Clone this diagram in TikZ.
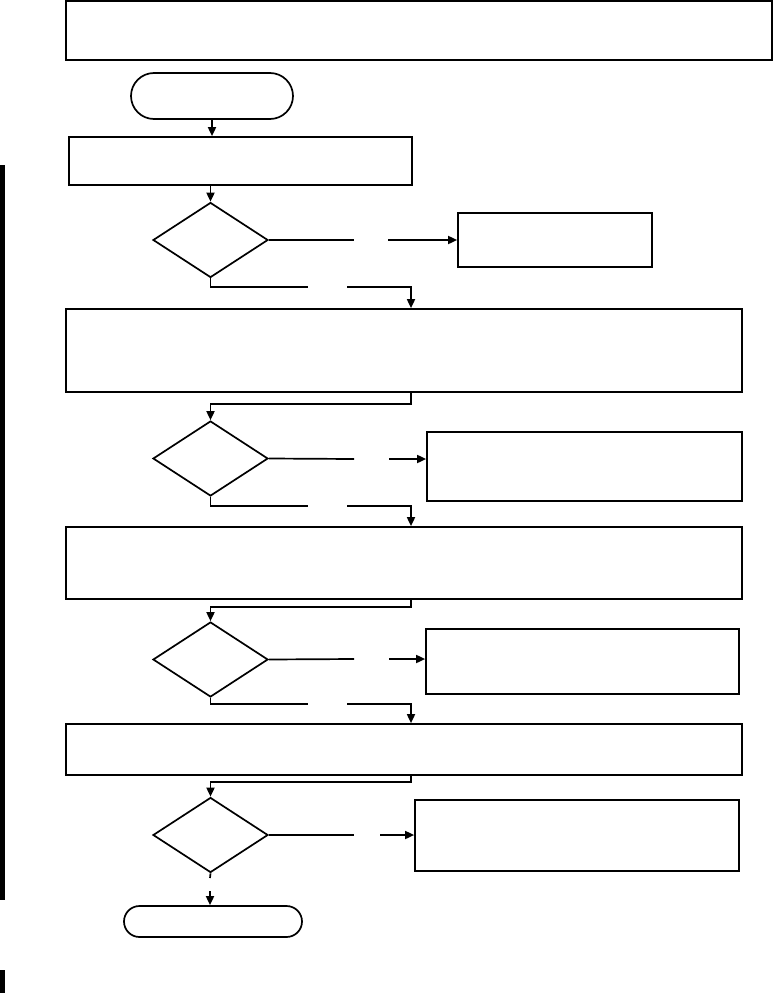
\documentclass[tikz,border=0pt]{standalone}
\usetikzlibrary{arrows.meta,shapes.geometric,shapes.misc}

\begin{document}
\begin{tikzpicture}[x=1pt,y=-1pt,>={Triangle[length=9pt,width=8pt]},
 box/.style={draw,rectangle,inner sep=0pt},
 term/.style={draw,rounded rectangle,inner sep=0pt},
 test/.style={draw,diamond,inner sep=0pt,minimum width=115pt,minimum height=75pt},
 every path/.style={line width=1.7pt}]
\useasboundingbox (0,0) rectangle (774,993);
% scan edge marks
\fill (0,165) rectangle (5,900);
\fill (0,970) rectangle (5,993);
% main column
\node[box,minimum width=706pt,minimum height=59pt] (title) at (419,30.5) {};
\node[term,minimum width=162pt,minimum height=46pt] (start) at (212,96) {};
\node[box,minimum width=343pt,minimum height=48pt] (first) at (240.5,161) {};
\node[test] (d1) at (210.5,240) {};
\node[box,minimum width=676pt,minimum height=83pt] (stepa) at (404,350.5) {};
\node[test] (d2) at (210.5,458.5) {};
\node[box,minimum width=676pt,minimum height=72pt] (stepb) at (404,563) {};
\node[test] (d3) at (210.5,659.5) {};
\node[box,minimum width=676pt,minimum height=51pt] (stepc) at (404,749.5) {};
\node[test] (d4) at (210.5,835) {};
\node[term,minimum width=178pt,minimum height=31pt] (stop) at (213,921.5) {};
% side boxes
\node[box,minimum width=194pt,minimum height=54pt] (r1) at (555,240) {};
\node[box,minimum width=315pt,minimum height=69pt] (r2) at (584.5,466.5) {};
\node[box,minimum width=313pt,minimum height=65pt] (r3) at (582.5,661.5) {};
\node[box,minimum width=324pt,minimum height=71pt] (r4) at (577,835.5) {};
% gap ends of the connectors
\coordinate (joinx) at (411,0);
\coordinate (y1a) at (354,240); \coordinate (y1b) at (388,240);
\coordinate (n1a) at (308,287); \coordinate (n1b) at (347,287);
\coordinate (y2a) at (354,459); \coordinate (y2b) at (389,459);
\coordinate (n2a) at (308,506); \coordinate (n2b) at (347,506);
\coordinate (y3a) at (354,659); \coordinate (y3b) at (389,659);
\coordinate (n3a) at (308,704); \coordinate (n3b) at (347,704);
\coordinate (y4a) at (354,835); \coordinate (y4b) at (380,835);
\coordinate (n4a) at (210,878); \coordinate (n4b) at (210,891);
% connectors
\draw[->] (start) -- (start |- first.north);
\draw[->] (first.south -| d1.north) -- (d1.north);
\draw (d1.east) -- (y1a);
\draw[->] (y1b) -- (r1.west);
\draw (d1.south) |- (n1a);
\draw[->] (n1b) -| (stepa.north -| joinx);
\draw[->] (stepa.south -| joinx) -- ++(0,11) -| (d2.north);
\draw (d2.east) -- (y2a);
\draw[->] (y2b) -- (r2.west |- y2b);
\draw (d2.south) |- (n2a);
\draw[->] (n2b) -| (stepb.north -| joinx);
\draw[->] (stepb.south -| joinx) -- ++(0,7) -| (d3.north);
\draw (d3.east) -- (y3a);
\draw[->] (y3b) -- (r3.west |- y3b);
\draw (d3.south) |- (n3a);
\draw[->] (n3b) -| (stepc.north -| joinx);
\draw[->] (stepc.south -| joinx) -- ++(0,6) -| (d4.north);
\draw (d4.east) -- (y4a);
\draw[->] (y4b) -- (r4.west |- y4b);
\draw (d4.south) -- (n4a);
\draw[->] (n4b) -- (stop.north -| n4b);
\end{tikzpicture}
\end{document}
